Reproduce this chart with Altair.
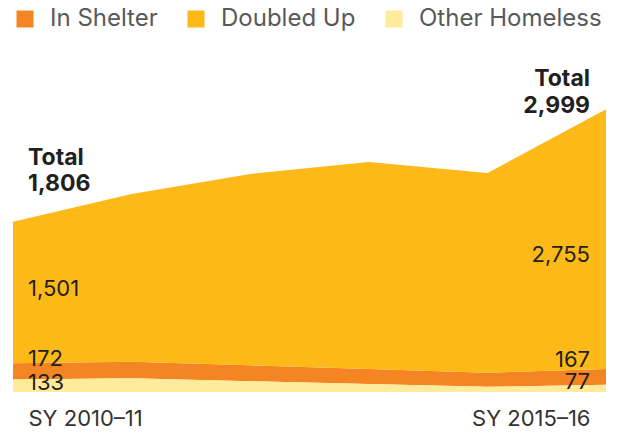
import altair as alt
import pandas as pd

years = ["SY 2010–11", "SY 2011–12", "SY 2012–13", "SY 2013–14", "SY 2014–15", "SY 2015–16"]
series = ["In Shelter", "Doubled Up", "Other Homeless"]
in_shelter = [172, 175, 168, 160, 150, 167]
doubled_up = [1501, 1780, 2029, 2194, 2117, 2755]
other_homeless = [133, 145, 115, 85, 55, 77]
colors = ["#f58423", "#fcb917", "#ffeb99"]

FONT = "Inter"
values = {"In Shelter": in_shelter, "Doubled Up": doubled_up, "Other Homeless": other_homeless}
stack_order = {"Other Homeless": 0, "In Shelter": 1, "Doubled Up": 2}

rows = []
for s in series:
    for i, y in enumerate(years):
        rows.append({"year": y, "series": s, "value": values[s][i], "ord": stack_order[s]})
df = pd.DataFrame(rows)

# band midpoints for labels
lab_rows = []
for i, y in enumerate(years):
    o, sh, d = other_homeless[i], in_shelter[i], doubled_up[i]
    lab_rows.append({"year": y, "series": "Other Homeless", "value": o, "mid": o / 2, "idx": i})
    lab_rows.append({"year": y, "series": "In Shelter", "value": sh, "mid": o + sh / 2, "idx": i})
    lab_rows.append({"year": y, "series": "Doubled Up", "value": d, "mid": o + sh + d / 2, "idx": i})
    lab_rows.append({"year": y, "series": "Total", "value": o + sh + d, "mid": o + sh + d, "idx": i})
lab = pd.DataFrame(lab_rows)

xenc = alt.X("year:N", sort=years, scale=alt.Scale(type="point", padding=0),
             axis=alt.Axis(values=[years[0], years[-1]], title=None, ticks=False, domain=False,
                           grid=False, labelFont=FONT, labelFontSize=22, labelColor="#333333",
                           labelPadding=16, labelAngle=0, labelOverlap=False, labelFlush=False,
                           labelAlign=alt.expr(f"datum.value == '{years[0]}' ? 'left' : 'right'"),
                           labelOffset=alt.expr(f"datum.value == '{years[0]}' ? 15 : -16")))
yscale = alt.Scale(domain=[0, 3627], nice=False, zero=True)

area = alt.Chart(df).mark_area(opacity=1, interpolate="linear").encode(
    x=xenc,
    y=alt.Y("value:Q", stack="zero", scale=yscale, axis=None),
    color=alt.Color("series:N", scale=alt.Scale(domain=series, range=colors),
                    legend=alt.Legend(orient="none", legendX=0, legendY=-43, direction="horizontal",
                                      title=None, symbolType="square", symbolSize=289,
                                      symbolStrokeWidth=0, symbolOpacity=1, labelLimit=400,
                                      labelFont=FONT, labelFontSize=24, labelColor="#58595b",
                                      labelOffset=13, columnPadding=26)),
    order=alt.Order("ord:Q", sort="ascending"),
)

layers = [area]

def label(series_name, idx, dx, dy, align, bold=False, text_field="value", prefix=None):
    d = lab[(lab.series == series_name) & (lab.idx == idx)]
    mk = alt.Chart(d).mark_text(align=align, baseline="alphabetic", dx=dx, dy=dy, font=FONT,
                                fontSize=23 if bold else 22,
                                fontWeight="bold" if bold else "normal",
                                color="#231f20")
    if prefix is not None:
        return mk.encode(x=alt.X("year:N", sort=years), y=alt.Y("mid:Q", scale=yscale),
                         text=alt.value(prefix))
    return mk.encode(x=alt.X("year:N", sort=years), y=alt.Y("mid:Q", scale=yscale),
                     text=alt.Text(text_field + ":Q", format=","))

last = len(years) - 1
layers += [
    label("Doubled Up", 0, 15, 4, "left"),
    label("In Shelter", 0, 15, -5, "left"),
    label("Other Homeless", 0, 15, 4, "left"),
    label("Doubled Up", last, -16, 23, "right"),
    label("In Shelter", last, -16, -10, "right"),
    label("Other Homeless", last, -16, 1, "right"),
    label("Total", 0, 15, -31, "left", bold=True),
    label("Total", 0, 15, -57, "left", bold=True, prefix="Total"),
    label("Total", last, -16, 4, "right", bold=True),
    label("Total", last, -16, -23, "right", bold=True, prefix="Total"),
]

chart = alt.layer(*layers).properties(
    width=593, height=342,
    autosize=alt.AutoSizeParams(type="none"),
    padding={"left": 5, "top": 42, "right": 6, "bottom": 40},
).configure_view(stroke=None)

chart.save("out.html", embed_options={"renderer": "svg", "actions": False})
